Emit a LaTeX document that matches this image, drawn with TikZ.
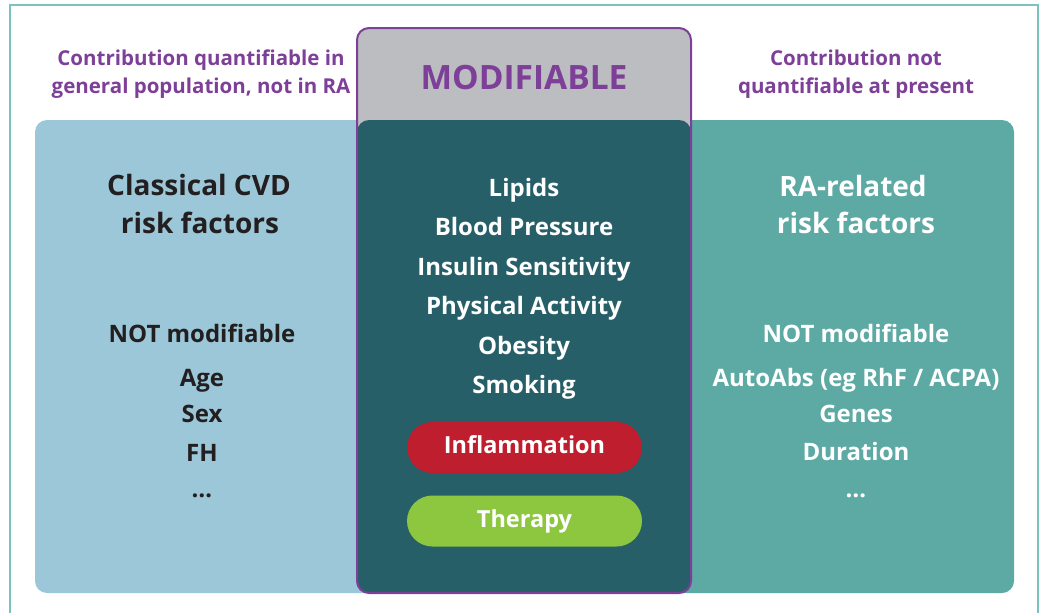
\documentclass[tikz,border=0pt]{standalone}
\usepackage{fontspec}
\setmainfont{Open Sans}

\definecolor{rimteal}{HTML}{7DC3BD}
\definecolor{classblue}{HTML}{9BC7D8}
\definecolor{rateal}{HTML}{5DA9A4}
\definecolor{moddark}{HTML}{275F69}
\definecolor{modgray}{HTML}{BCBDC0}
\definecolor{modpurple}{HTML}{7D3F98}
\definecolor{inflred}{HTML}{BE1E2D}
\definecolor{therapygreen}{HTML}{8DC63F}
\definecolor{inkdark}{HTML}{231F20}

\tikzset{
  colhead/.style={anchor=base, inner sep=0pt, text=modpurple,
    font=\fontsize{20.5}{24}\selectfont\bfseries},
  boxtitle/.style={anchor=base, inner sep=0pt,
    font=\fontsize{28}{32}\selectfont\bfseries},
  item/.style={anchor=base, inner sep=0pt,
    font=\fontsize{24}{28}\selectfont\bfseries},
  pill/.style={minimum width=235pt, minimum height=51pt, inner sep=0pt,
    rounded corners=25.5pt, text=white, text height=17pt, text depth=5pt,
    font=\fontsize{23.5}{28}\selectfont\bfseries},
}

\begin{document}
\begin{tikzpicture}[x=1pt, y=-1pt]
  \useasboundingbox (0,0) rectangle (1042,613);

  % Rahmen
  \draw[rimteal, line width=1.5pt] (10,613) -- (10,5) -- (1038,5) -- (1038,613);

  % Spalten
  \fill[classblue, rounded corners=12pt] (35,120) rectangle (400,593);
  \fill[rateal, rounded corners=12pt] (650,120) rectangle (1014,593);

  \fill[modgray, rounded corners=12pt] (357,28) rectangle (691,593);
  \fill[moddark, rounded corners=12pt] (357,120) rectangle (691,593);
  \draw[modpurple, line width=2pt, rounded corners=12pt] (357,28) rectangle (691,593);

  % Kopfzeilen
  \node[colhead] (quantA) at (201,65) {Contribution quantifiable in};
  \node[colhead] (quantB) at (201,93) {general population, not in RA};
  \node[colhead] (notqA) at (856,65) {Contribution not};
  \node[colhead] (notqB) at (856,93) {quantifiable at present};
  \node[anchor=base, inner sep=0pt, text=modpurple,
    font=\fontsize{33.5}{40}\selectfont\bfseries] (modtitle) at (524,89) {MODIFIABLE};

  % klassische Faktoren
  \node[boxtitle, text=inkdark] (classA) at (199,195) {Classical CVD};
  \node[boxtitle, text=inkdark] (classB) at (200,233) {risk factors};
  \foreach \txt/\y [count=\i] in {NOT modifiable/342, Age/386, Sex/422, FH/461, \textellipsis/497}
    \node[item, text=inkdark] (class\i) at (202,\y) {\txt};

  % RA-Faktoren
  \node[boxtitle, text=white] (raA) at (853,196) {RA-related};
  \node[boxtitle, text=white] (raB) at (856,233) {risk factors};
  \foreach \txt/\y [count=\i] in {NOT modifiable/342, {AutoAbs (eg RhF / ACPA)}/386,
      Genes/422, Duration/460, \textellipsis/497}
    \node[item, text=white] (ra\i) at (856,\y) {\txt};

  % modifizierbare Faktoren
  \foreach \txt [count=\i] in {Lipids, Blood Pressure, Insulin Sensitivity,
      Physical Activity, Obesity, Smoking}
    \node[item, text=white] (mod\i) at (524,{156.5+39.5*\i}) {\txt};

  \node[pill, fill=inflred] (inflam) at (524.5,447.5) {Inflammation};
  \node[pill, fill=therapygreen] (therapy) at (524.5,521) {Therapy};
\end{tikzpicture}
\end{document}
